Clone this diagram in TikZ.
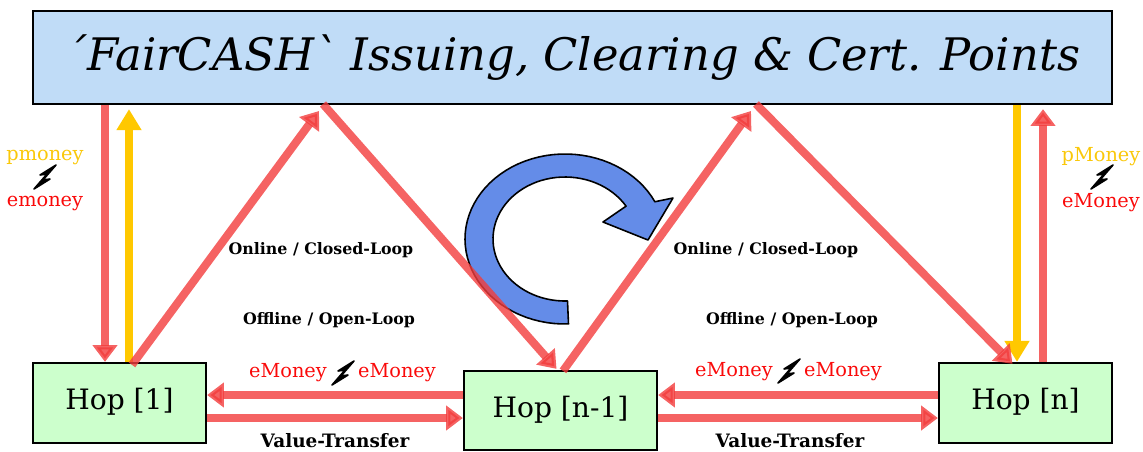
\documentclass[tikz,border=0pt]{standalone}
\usepackage{fontspec}
\setmainfont{DejaVu Serif}
\usetikzlibrary{arrows.meta,calc}
\definecolor{redarr}{RGB}{242,60,60}
\definecolor{goldarr}{RGB}{255,200,0}
\definecolor{titlefill}{RGB}{192,220,247}
\definecolor{hopfill}{RGB}{204,255,204}
\definecolor{cycfill}{RGB}{100,140,232}
\definecolor{txtred}{RGB}{250,10,10}
\definecolor{txtgold}{RGB}{250,200,10}
\begin{document}
\begin{tikzpicture}[x=0.02cm,y=-0.02cm,
  redarrow/.style={draw=redarr, line width=4.6pt, opacity=0.8, -{Triangle[width=13.6pt,length=9.5pt]}},
  goldarrow/.style={draw=goldarr, line width=4.6pt, -{Triangle[width=13.6pt,length=12pt]}},
  hopbox/.style={draw=black, line width=1.3pt, fill=hopfill, inner sep=0pt, font=\fontsize{16}{19}\selectfont},
  lbl/.style={font=\fontsize{9}{11}\selectfont\bfseries, inner sep=0pt},
  vtl/.style={font=\fontsize{10.5}{12}\selectfont\bfseries, inner sep=0pt},
  money/.style={font=\fontsize{11}{13}\selectfont, inner sep=0pt},
  bolt/.pic={\filldraw[black, line width=0.9pt, line join=round] (11,-12) -- (-2,3) -- (5,2) -- (-11,12) -- (2,-3) -- (-5,-2) -- cycle;}
]
\useasboundingbox (0,0) rectangle (1143,451);

% title box
\node[draw=black, line width=1.3pt, fill=titlefill, minimum width=21.58cm, minimum height=1.86cm,
      font=\fontsize{25.5}{30}\selectfont\itshape] (title) at (572.5,57.5)
      {\raisebox{2pt}{\symbol{"B4}FairCASH\textasciigrave{} Issuing, Clearing \& Cert. Points}};

% hop boxes
\node[hopbox, minimum width=3.46cm, minimum height=1.6cm] (hop1) at (119.5,403) {\raisebox{4.5pt}{Hop [1]}};
\node[hopbox, minimum width=3.86cm, minimum height=1.58cm] (hopm) at (560.5,410.5) {\raisebox{4.5pt}{Hop [n-1]}};
\node[hopbox, minimum width=3.46cm, minimum height=1.6cm] (hopn) at (1025.5,403) {\raisebox{4.5pt}{Hop [n]}};

% cycle arrow
\filldraw[fill=cycfill, draw=black, line width=0.9pt, line join=round]
  plot[domain=88:334,samples=60] ({565+100*cos(\x)},{239+85*sin(\x)})
  -- (673,198) -- (648,240) -- (603,222)
  -- plot[domain=328:88,samples=60] ({565+72*cos(\x)},{239+62*sin(\x)}) -- cycle;

% vertical arrows
\coordinate (c1) at (105,0);
\coordinate (c2) at (129,0);
\coordinate (c3) at (1017,0);
\coordinate (c4) at (1043,0);
\draw[redarrow] (title.south -| c1) -- (hop1.north -| c1);
\draw[goldarrow] (hop1.north -| c2) -- ($(title.south -| c2)+(0,4)$);
\draw[goldarrow] (title.south -| c3) -- (hopn.north -| c3);
\draw[redarrow] (hopn.north -| c4) -- ($(title.south -| c4)+(0,4)$);

% diagonal arrows
\coordinate (apexL) at (323,104);
\coordinate (apexR) at (756,104);
\draw[redarrow] ($(hop1.north)+(12.5,3)$) -- ($(apexL)+(-4,7)$);
\draw[redarrow] (apexL) -- ($(hopm.north)+(-4,-1)$);
\draw[redarrow] ($(hopm.north)+(2.5,1)$) -- ($(apexR)+(-5,7)$);
\draw[redarrow] (apexR) -- ($(hopn.north)+(-13,2)$);

% horizontal arrows
\draw[redarrow] ($(hopm.west)+(0,-15.5)$) coordinate (h1) -- (h1 -| hop1.east);
\draw[redarrow] ($(hop1.east)+(0,15)$) coordinate (h2) -- (h2 -| hopm.west);
\draw[redarrow] ($(hopn.west)+(0,-8)$) coordinate (h3) -- (h3 -| hopm.east);
\draw[redarrow] ($(hopm.east)+(0,7.5)$) coordinate (h4) -- (h4 -| hopn.west);

% labels
\node[lbl] (on1) at (321,250) {Online / Closed-Loop};
\node[lbl] (off1) at (329,320) {Offline / Open-Loop};
\node[lbl] (on2) at (766,250) {Online / Closed-Loop};
\node[lbl] (off2) at (792,320) {Offline / Open-Loop};
\node[vtl] (vt1) at (335,441) {Value-Transfer};
\node[vtl] (vt2) at (790,441) {Value-Transfer};

\node[money, text=txtgold] (pm1) at (45,157) {pmoney};
\node[money, text=txtred] (em1) at (45,203) {emoney};
\pic at (45,177) {bolt};
\node[money, text=txtgold] (pm2) at (1101,157) {pMoney};
\node[money, text=txtred] (em2) at (1101,203) {eMoney};
\pic at (1102,177) {bolt};

\node[money, text=txtred] (e1) at (288,373) {eMoney};
\node[money, text=txtred] (e2) at (397,373) {eMoney};
\pic at (343,373) {bolt};
\node[money, text=txtred] (e3) at (734,372) {eMoney};
\node[money, text=txtred] (e4) at (843,372) {eMoney};
\pic at (789,371) {bolt};
\end{tikzpicture}
\end{document}
